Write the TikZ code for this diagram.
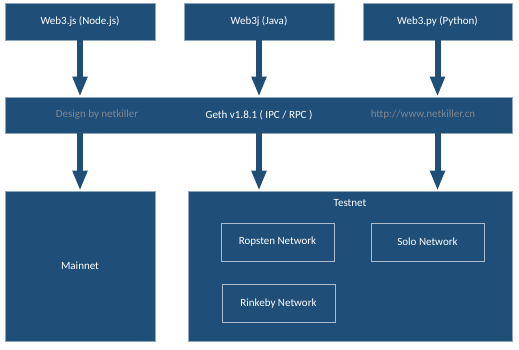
\documentclass[tikz,border=0pt]{standalone}
\usepackage{fontspec}
\setmainfont{Carlito}
\usetikzlibrary{arrows.meta}
\definecolor{navy}{HTML}{1F4E79}
\definecolor{edge}{HTML}{8FA6BD}
\definecolor{inner}{HTML}{AEBBC8}
\definecolor{faint}{HTML}{7F8790}
\newcommand{\diagfont}{\fontsize{11pt}{13pt}\selectfont}
\tikzset{
  box/.style={draw=edge, line width=0.8pt, fill=navy, text=white, font=\diagfont, inner sep=0pt},
  subbox/.style={draw=inner, line width=0.9pt, fill=navy, text=white, font=\diagfont,
    minimum width=113pt, minimum height=38pt, inner sep=0pt},
  label/.style={text=white, font=\diagfont, inner sep=0pt},
  note/.style={text=faint, font=\diagfont, inner sep=0pt},
  flow/.style={draw=navy, line width=6pt, -{Triangle[width=14pt,length=20pt]}, shorten >=0pt}
}
\begin{document}
\begin{tikzpicture}[x=1pt,y=-1pt]
\useasboundingbox (0,0) rectangle (519,349);

% client libraries
\node[box, minimum width=150pt, minimum height=37pt] (js) at (80,21.5) {Web3.js (Node.js)};
\node[box, minimum width=150pt, minimum height=37pt] (jv) at (259,21.5) {Web3j (Java)};
\node[box, minimum width=149pt, minimum height=37pt] (py) at (437.5,21.5) {Web3.py (Python)};

% geth bar
\node[box, minimum width=507pt, minimum height=36pt] (geth) at (258.5,115) {};
\node[label] (gethtxt) at (259,115) {Geth v1.8.1 ( IPC / RPC )};
\node[note] (design) at (97,115) {Design by netkiller};
\node[note] (url) at (423,115) {http://www.netkiller.cn};

% networks
\node[box, minimum width=150pt, minimum height=150pt] (main) at (80,266) {Mainnet};
\node[box, minimum width=324pt, minimum height=150pt] (test) at (350.5,266) {};
\node[label] (testtxt) at (350,203) {Testnet};
\node[subbox] (rop) at (277.5,242) {Ropsten Network};
\node[subbox] (solo) at (427.5,242) {Solo Network};
\node[subbox] (rink) at (278.5,303.5) {Rinkeby Network};

% arrows into geth
\draw[flow] (js.south) -- (js.south |- geth.north);
\draw[flow] (jv.south) -- (jv.south |- geth.north);
\draw[flow] (py.south) -- (py.south |- geth.north);

% arrows out of geth
\draw[flow] (main.north |- geth.south) -- (main.north);
\draw[flow] (jv.south |- geth.south) -- (jv.south |- test.north);
\draw[flow] (py.south |- geth.south) -- (py.south |- test.north);
\end{tikzpicture}
\end{document}
